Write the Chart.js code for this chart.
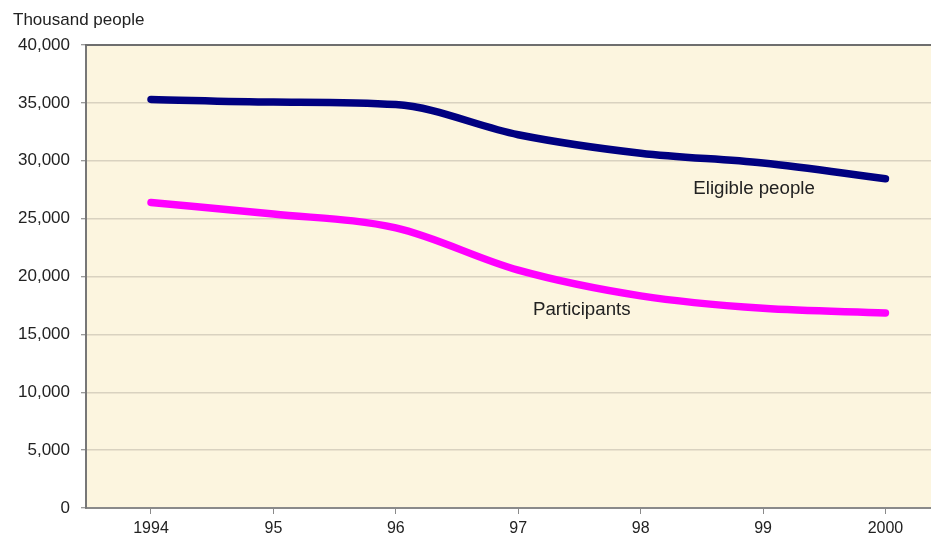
<!DOCTYPE html>
<html>
<head>
<meta charset="utf-8">
<script src="https://cdn.jsdelivr.net/npm/chart.js@4"></script>
<style>
  html, body { margin: 0; padding: 0; background: #ffffff; }
  #wrap { width: 931px; height: 539px; position: relative; }
</style>
</head>
<body>
<div id="wrap"><canvas id="chart"></canvas></div>
<script>
const years = [1994, 1995, 1996, 1997, 1998, 1999, 2000];
const yearLabels = ["1994", "95", "96", "97", "98", "99", "2000"];
const eligible = [35300, 35070, 34850, 32250, 30650, 29800, 28450];
const participants = [26400, 25400, 24200, 20550, 18330, 17250, 16850];
const yTicks = [0, 5000, 10000, 15000, 20000, 25000, 30000, 35000, 40000];

const FONT = "'Liberation Sans', Arial, sans-serif";

function toPoints(values) {
  return years.map((yr, i) => ({ x: yr, y: values[i] }));
}

// plot background, top frame line, axis title and line captions
const decorations = {
  id: "decorations",
  beforeDraw(chart) {
    const { ctx, chartArea: a } = chart;
    ctx.save();
    ctx.fillStyle = "#fcf5df";
    ctx.fillRect(a.left, a.top, a.right - a.left, a.bottom - a.top);
    ctx.restore();
  },
  afterDraw(chart) {
    const { ctx, chartArea: a, scales } = chart;
    ctx.save();
    ctx.strokeStyle = "#6e6e6e";
    ctx.lineWidth = 2;
    ctx.beginPath();
    ctx.moveTo(a.left - 1, a.top);
    ctx.lineTo(a.right, a.top);
    ctx.stroke();

    ctx.fillStyle = "#222222";
    ctx.textBaseline = "middle";
    ctx.textAlign = "left";
    ctx.font = "17px " + FONT;
    ctx.fillText("Thousand people", 13, 20);

    ctx.font = "18.7px " + FONT;
    ctx.fillText("Eligible people", scales.x.getPixelForValue(1998.43), scales.y.getPixelForValue(27600));
    ctx.fillText("Participants", scales.x.getPixelForValue(1997.12), scales.y.getPixelForValue(17100));
    ctx.restore();
  }
};

function lineStyle(color) {
  return {
    borderColor: color,
    borderWidth: 7.5,
    cubicInterpolationMode: "monotone",
    borderCapStyle: "round",
    borderJoinStyle: "round",
    pointRadius: 0
  };
}

new Chart(document.getElementById("chart"), {
  type: "line",
  data: {
    datasets: [
      Object.assign({ label: "Eligible people", data: toPoints(eligible) }, lineStyle("#000080")),
      Object.assign({ label: "Participants", data: toPoints(participants) }, lineStyle("#ff00ff"))
    ]
  },
  options: {
    responsive: true,
    maintainAspectRatio: false,
    devicePixelRatio: 1,
    animation: false,
    layout: { padding: { top: 45, right: 0, left: 0, bottom: 0 } },
    plugins: {
      legend: { display: false },
      tooltip: { enabled: false }
    },
    scales: {
      x: {
        type: "linear",
        min: 1993.469,
        max: 2000.372,
        afterBuildTicks: s => { s.ticks = years.map(v => ({ value: v })); },
        afterFit: s => { s.height = 31; },
        ticks: {
          callback: v => yearLabels[years.indexOf(v)],
          color: "#222222",
          font: { family: FONT, size: 16 },
          padding: 5,
          maxRotation: 0,
          autoSkip: false
        },
        grid: {
          drawOnChartArea: false,
          drawTicks: true,
          tickLength: 6,
          tickColor: "#8a8a8a",
          tickWidth: 1
        },
        border: { display: true, color: "#8a8a8a", width: 2 }
      },
      y: {
        min: 0,
        max: 40000,
        afterBuildTicks: s => { s.ticks = yTicks.map(v => ({ value: v })); },
        afterFit: s => { s.width = 86; },
        ticks: {
          callback: v => v.toLocaleString("en-US"),
          color: "#222222",
          font: { family: FONT, size: 17 },
          padding: 11
        },
        grid: {
          color: "#d9d2c0",
          lineWidth: 1.5,
          drawTicks: true,
          tickLength: 5,
          tickColor: "#7a7a7a",
          tickWidth: 1
        },
        border: { display: true, color: "#777777", width: 2 }
      }
    }
  },
  plugins: [decorations]
});
</script>
</body>
</html>
